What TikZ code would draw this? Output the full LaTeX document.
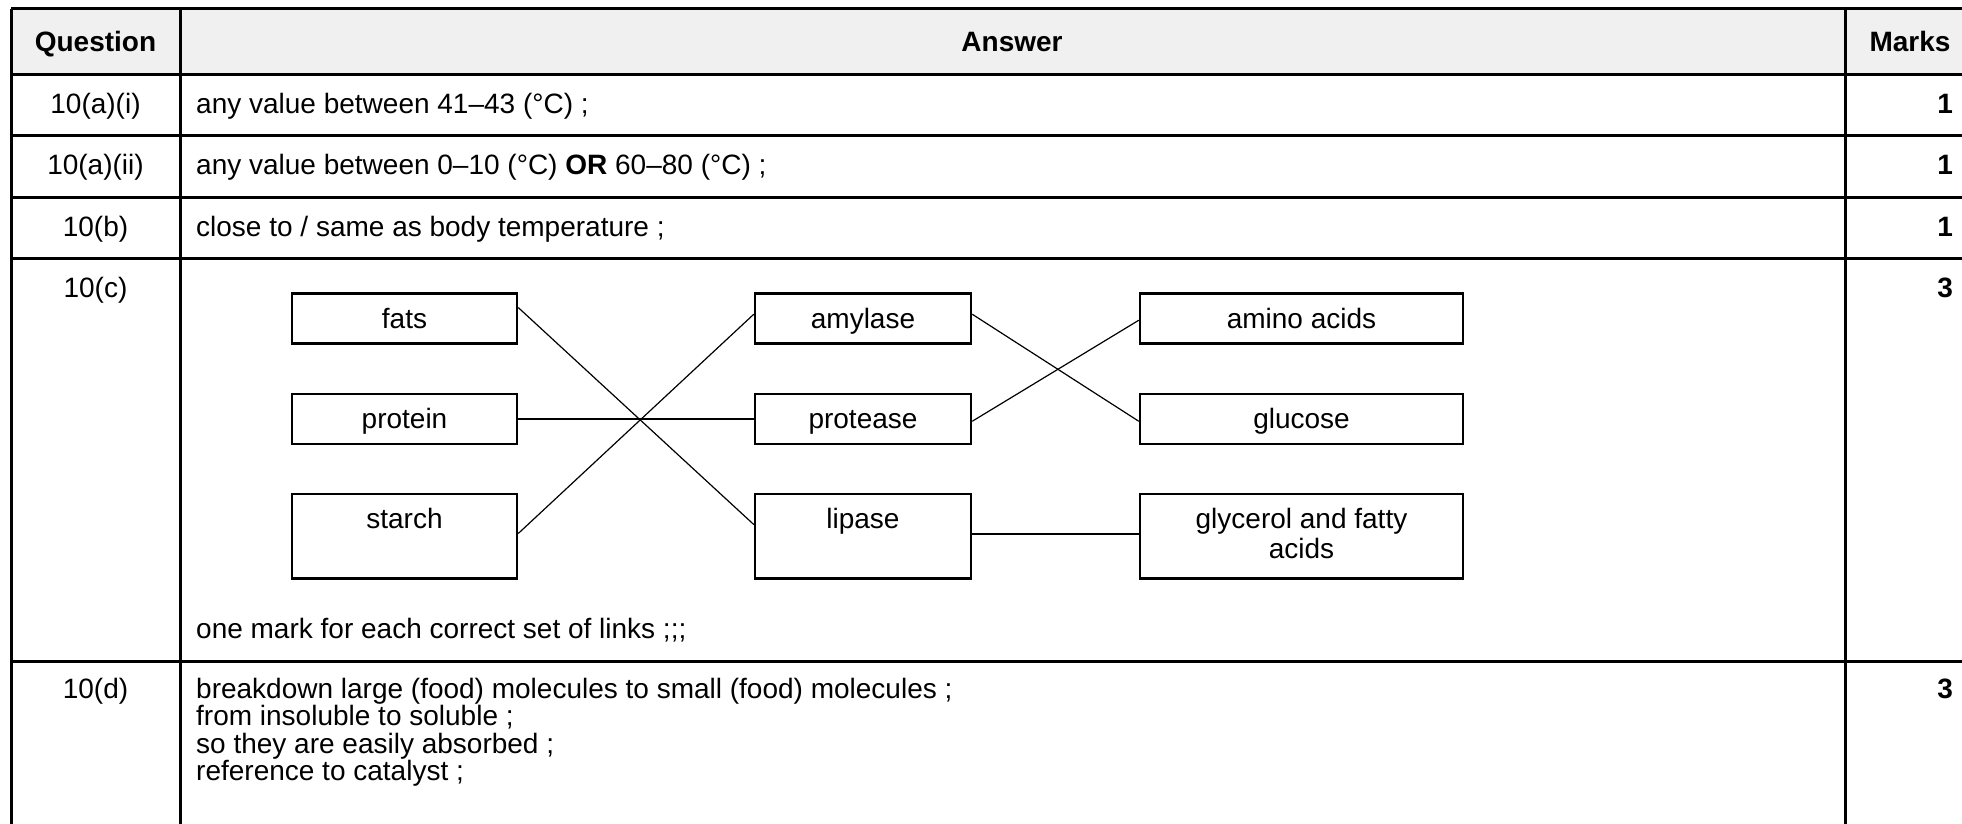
\documentclass[tikz,border=0pt]{standalone}
\usepackage{fontspec}
\setmainfont{Liberation Sans}
\begin{document}
\begin{tikzpicture}[x=1pt,y=-1pt,
  every node/.style={font=\fontsize{28}{30}\selectfont, inner sep=0pt},
  grid/.style={line width=3pt},
  cell/.style={anchor=base west},
  qcell/.style={anchor=base},
  mcell/.style={anchor=base east},
  hdr/.style={anchor=base, font=\fontsize{28}{30}\selectfont\bfseries},
  matchbox/.style={draw, line width=2.5pt, anchor=north, text height=35pt, text depth=15pt, align=center},
  tallbox/.style={matchbox, text depth=49.5pt},
  leftcol/.style={minimum width=225pt},
  midcol/.style={minimum width=216pt},
  rightcol/.style={minimum width=323pt},
  link/.style={line width=1.2pt},
  flatlink/.style={line width=2.5pt}]
\useasboundingbox (0,0) rectangle (1962,824);
% header fill
\fill[black!6] (11,9) rectangle (1962,75);
% grid
\draw[grid] (11,9) -- (1962,9);
\draw[grid] (11,75) -- (1962,75);
\draw[grid] (11,136) -- (1962,136);
\draw[grid] (11,197) -- (1962,197);
\draw[grid] (11,258) -- (1962,258);
\draw[grid] (11,661) -- (1962,661);
\draw[grid] (11,9) -- (11,824);
\draw[grid] (180.5,9) -- (180.5,824);
\draw[grid] (1845,9) -- (1845,824);
% header
\node[hdr] (hq) at (95.5,52) {Question};
\node[hdr] (ha) at (1012,52) {Answer};
\node[hdr] (hm) at (1910,52) {Marks};
% row a(i)
\node[qcell] (q1) at (95.5,114) {10(a)(i)};
\node[cell] (a1) at (196,114) {any value between 41–43 (°C) ;};
\node[mcell,font=\fontsize{28}{30}\selectfont\bfseries] (m1) at (1953,114) {1};
% row a(ii)
\node[qcell] (q2) at (95.5,175) {10(a)(ii)};
\node[cell] (a2) at (196,175) {any value between 0–10 (°C) \textbf{OR} 60–80 (°C) ;};
\node[mcell,font=\fontsize{28}{30}\selectfont\bfseries] (m2) at (1953,175) {1};
% row b
\node[qcell] (q3) at (95.5,236) {10(b)};
\node[cell] (a3) at (196,236) {close to / same as body temperature ;};
\node[mcell,font=\fontsize{28}{30}\selectfont\bfseries] (m3) at (1953,236) {1};
% row c
\node[qcell] (q4) at (95.5,297) {10(c)};
\node[mcell,font=\fontsize{28}{30}\selectfont\bfseries] (m4) at (1953,297) {3};
\node[matchbox,leftcol] (fats) at (404.5,292.3) {fats};
\node[matchbox,leftcol] (protein) at (404.5,392.7) {protein};
\node[tallbox,leftcol] (starch) at (404.5,492.7) {starch};
\node[matchbox,midcol] (amylase) at (863,292.3) {amylase};
\node[matchbox,midcol] (protease) at (863,392.7) {protease};
\node[tallbox,midcol] (lipase) at (863,492.7) {lipase};
\node[matchbox,rightcol] (amino) at (1301.5,292.3) {amino acids};
\node[matchbox,rightcol] (glucose) at (1301.5,392.7) {glucose};
\node[tallbox,rightcol] (glycerol) at (1301.5,492.7) {\begin{tabular}[t]{@{}c@{}}glycerol and fatty\\acids\end{tabular}};
\draw[link] ([yshift=11pt]fats.east) -- ([yshift=11.7pt]lipase.west);
\draw[link] ([yshift=2.7pt]starch.east) -- ([yshift=4.3pt]amylase.west);
\draw[flatlink] (protein.east) -- (protease.west);
\draw[link] ([yshift=4.3pt]amylase.east) -- ([yshift=-2.3pt]glucose.west);
\draw[link] ([yshift=-2.3pt]protease.east) -- ([yshift=-1.7pt]amino.west);
\draw[flatlink] ([yshift=2pt]lipase.east) -- ([yshift=2pt]glycerol.west);
\node[cell] (a4) at (196,638) {one mark for each correct set of links ;;;};
% row d
\node[qcell] (q5) at (95.5,698) {10(d)};
\node[mcell,font=\fontsize{28}{30}\selectfont\bfseries] (m5) at (1953,698) {3};
\node[cell] (d1) at (196,698) {breakdown large (food) molecules to small (food) molecules ;};
\node[cell] (d2) at (196,725.5) {from insoluble to soluble ;};
\node[cell] (d3) at (196,753) {so they are easily absorbed ;};
\node[cell] (d4) at (196,780.5) {reference to catalyst ;};
\end{tikzpicture}
\end{document}
